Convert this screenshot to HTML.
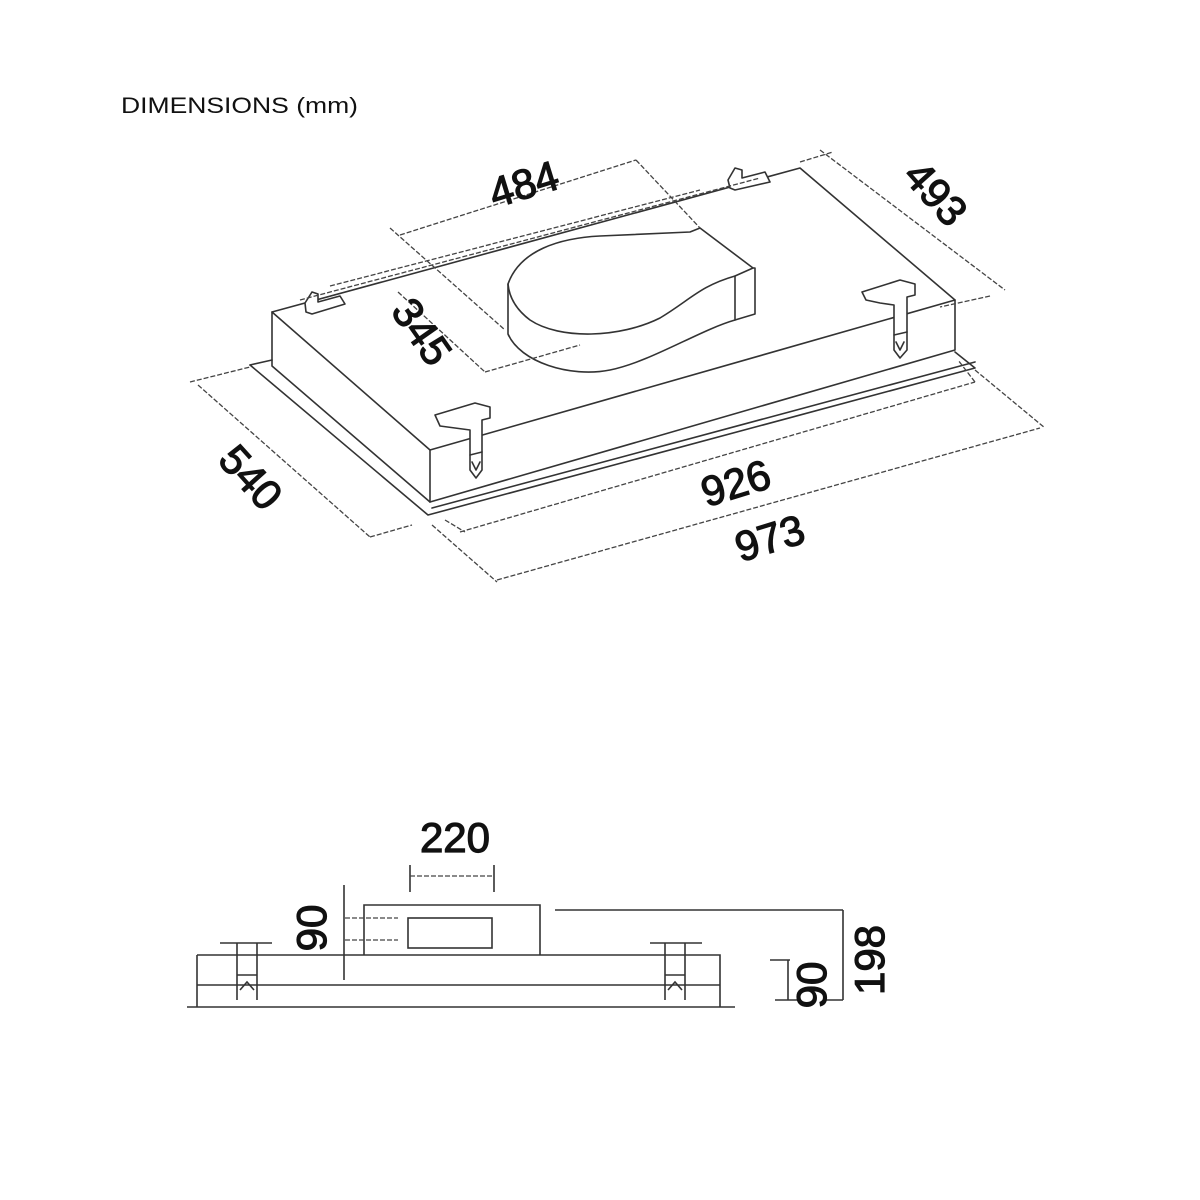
<!DOCTYPE html>
<html><head><meta charset="utf-8"><style>
html,body{margin:0;padding:0;background:#fff;}
svg{display:block}
text{font-family:"Liberation Sans",Arial,sans-serif;fill:#111}
.d{stroke:#111;stroke-width:1.2}
</style></head><body>
<svg width="1200" height="1200" viewBox="0 0 1200 1200" xmlns="http://www.w3.org/2000/svg">
<text x="121" y="113" font-size="22" textLength="237" lengthAdjust="spacingAndGlyphs">DIMENSIONS (mm)</text>
<g stroke="#333" stroke-width="1.6" fill="none" stroke-linecap="round" stroke-linejoin="round">
<path d="M272,312 L272,366 L430,502 L430,450 Z" fill="#fff"/>
<path d="M272,312 L800,168 L955,300 L430,450"/>
<path d="M430,502 L955,350 L955,300"/>
<path d="M250,365 L272,360"/>
<path d="M250,365 L428,515 L975,368 L955,352"/>
<path d="M432,508 L975,362"/>
<path d="M508,284 C520,250 560,238 600,236 L690,232 L700,228 L753,268 L735,276 C700,286 690,300 660,318 C620,338 560,340 530,320 Q510,305 508,284 Z" fill="#fff"/>
<path d="M508,284 L508,334 C520,362 570,378 610,370 C650,362 700,330 735,320 L735,276"/>
<path d="M735,320 L755,314 L755,268 L753,268"/>
<path d="M305,303 L312,292 L318,294 L318,302 L340,296 L345,304 L312,314 L306,312 Z" fill="#fff"/>
<path d="M728,180 L735,168 L742,170 L742,178 L765,172 L770,182 L735,190 L730,188 Z" fill="#fff"/>
<path d="M435,415 L475,403 L490,407 L490,418 L482,420 L482,470 L476,478 L470,470 L470,430 L455,428 L440,426 Z" fill="#fff"/>
<path d="M470,455 L482,452 M472,462 L476,470 L480,462"/>
<path d="M862,292 L900,280 L915,284 L915,295 L907,297 L907,350 L900,358 L894,350 L894,305 L880,303 L866,300 Z" fill="#fff"/>
<path d="M894,335 L907,332 M896,342 L900,350 L904,342"/>
</g>
<g stroke="#444" stroke-width="1.3" fill="none" stroke-dasharray="5,2">
<path d="M400,235 L636,160"/>
<path d="M390,228 L505,330"/>
<path d="M636,160 L700,228"/>
<path d="M300,300 L760,178"/>
<path d="M330,286 L700,190"/>
<path d="M820,150 L1005,290"/>
<path d="M990,296 L940,307"/>
<path d="M800,162 L833,152"/>
<path d="M398,292 L485,372"/>
<path d="M485,372 L580,345"/>
<path d="M198,385 L370,537"/>
<path d="M190,382 L250,367"/>
<path d="M370,537 L412,525"/>
<path d="M460,532 L975,382"/>
<path d="M445,520 L465,532"/>
<path d="M975,382 L958,360"/>
<path d="M497,580 L1040,428"/>
<path d="M432,525 L497,582"/>
<path d="M975,370 L1045,428"/>
</g>
<g font-size="42" class="d">
<text transform="translate(528,198) rotate(-17)" text-anchor="middle">484</text>
<text transform="translate(925,203) rotate(48)" text-anchor="middle">493</text>
<text transform="translate(410,340) rotate(55)" text-anchor="middle">345</text>
<text transform="translate(240,487) rotate(48)" text-anchor="middle">540</text>
<text transform="translate(740,497) rotate(-17)" text-anchor="middle">926</text>
<text transform="translate(774,552) rotate(-17)" text-anchor="middle">973</text>
</g>
<g stroke="#333" stroke-width="1.6" fill="none">
<path d="M364,955 L364,905 L540,905 L540,955"/>
<rect x="408" y="918" width="84" height="30"/>
<path d="M197,955 L720,955 L720,1007"/>
<path d="M197,955 L197,1007"/>
<path d="M197,985 L720,985"/>
<path d="M187,1007 L735,1007"/>
<path d="M220,943 L272,943 M237,943 L237,1000 M257,943 L257,1000 M237,975 L257,975 M240,990 L247,982 L254,990"/>
<path d="M650,943 L702,943 M665,943 L665,1000 M685,943 L685,1000 M665,975 L685,975 M668,990 L675,982 L682,990"/>
<path d="M410,865 L410,892 M494,865 L494,892"/>
<path d="M555,910 L843,910"/>
<path d="M843,910 L843,1000 M825,1000 L843,1000"/>
<path d="M770,960 L790,960 M788,960 L788,1000 M775,1000 L800,1000"/>
<path d="M344,885 L344,980"/>
</g>
<g stroke="#444" stroke-width="1.3" stroke-dasharray="5,2" fill="none">
<path d="M410,876 L494,876"/>
<path d="M345,918 L398,918 M345,940 L398,940"/>
</g>
<g font-size="42" class="d">
<text x="455" y="852" text-anchor="middle">220</text>
<text transform="translate(326,928) rotate(-90)" text-anchor="middle">90</text>
<text transform="translate(884,960) rotate(-90)" text-anchor="middle">198</text>
<text transform="translate(826,985) rotate(-90)" text-anchor="middle">90</text>
</g>
</svg>
</body></html>
